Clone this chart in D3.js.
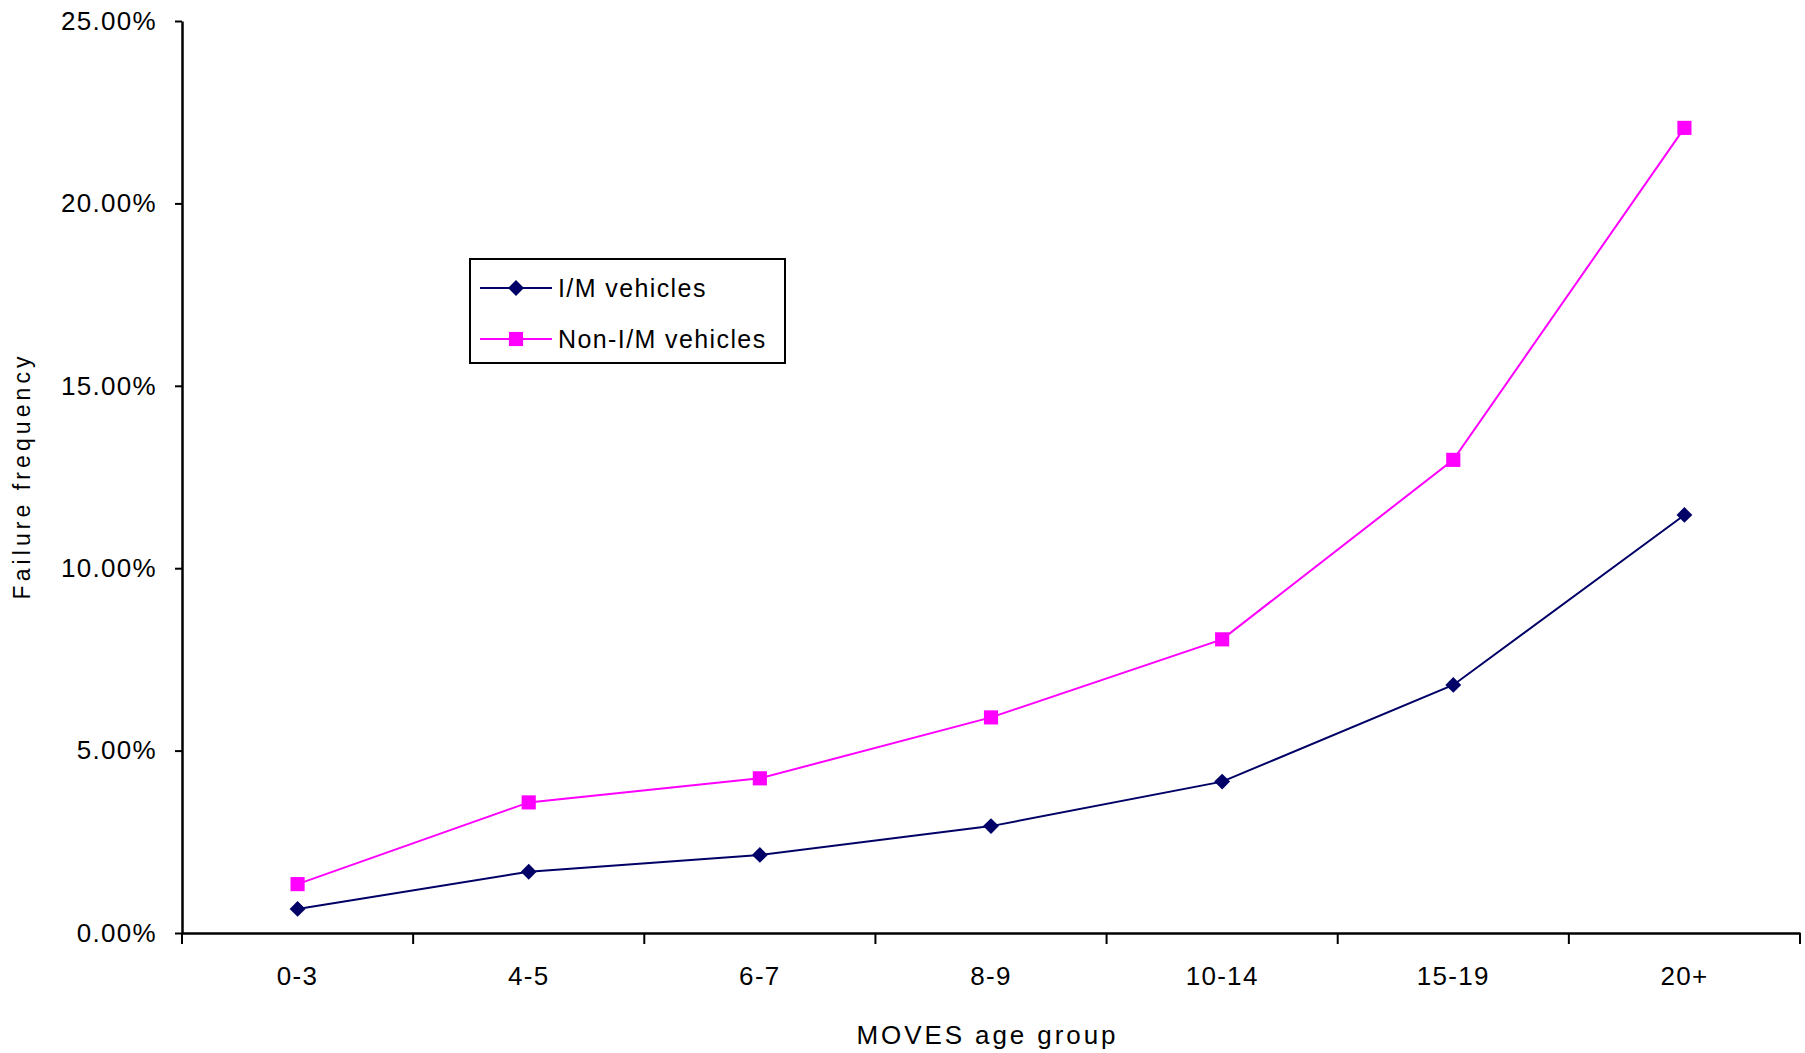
<!DOCTYPE html>
<html>
<head>
<meta charset="utf-8">
<script src="https://cdn.jsdelivr.net/npm/d3@7"></script>
<style>
  html, body { margin: 0; padding: 0; background: #ffffff; }
  svg { display: block; }
  text { font-family: "Liberation Sans", Arial, sans-serif; fill: #000; }
</style>
</head>
<body>
<svg id="chart" width="1805" height="1053"></svg>
<script>
// Age groups and failure frequencies (fractions) for the two vehicle populations
const ageGroups = ["0-3", "4-5", "6-7", "8-9", "10-14", "15-19", "20+"];
const imValues    = [0.0066, 0.0168, 0.0214, 0.0293, 0.0415, 0.0680, 0.1146];
const nonImValues = [0.0134, 0.0358, 0.0424, 0.0591, 0.0805, 0.1297, 0.2207];
const yTickValues = [0, 0.05, 0.10, 0.15, 0.20, 0.25];
const seriesNames = ["I/M vehicles", "Non-I/M vehicles"];

const series = [
  { name: seriesNames[0], values: imValues,    color: "#000066", marker: "diamond" },
  { name: seriesNames[1], values: nonImValues, color: "#ff00ff", marker: "square" }
];

const svg = d3.select("#chart");
const plot = { left: 182, right: 1800, top: 21, bottom: 933 };

const x = d3.scaleBand().domain(ageGroups).range([plot.left, plot.right]).padding(0);
const y = d3.scaleLinear().domain([0, 0.25]).range([plot.bottom, plot.top]);
const cx = c => x(c) + x.bandwidth() / 2;

// Y axis
const yAxis = svg.append("g")
  .attr("transform", `translate(${plot.left},0)`)
  .call(d3.axisLeft(y).tickValues(yTickValues).tickFormat(d3.format(".2%"))
    .tickSizeInner(7).tickSizeOuter(0).tickPadding(18));
yAxis.select(".domain").attr("stroke", "#000").attr("stroke-width", 2.5);
yAxis.selectAll(".tick line").attr("stroke", "#000").attr("stroke-width", 2);
yAxis.selectAll(".tick text")
  .attr("font-size", 26).attr("letter-spacing", 1.3)
  .style("font-family", "'Liberation Sans', Arial, sans-serif");

// X axis: labels centred in each band, tick marks on the band boundaries
const xAxis = svg.append("g")
  .attr("transform", `translate(0,${plot.bottom})`)
  .call(d3.axisBottom(x).tickSize(0).tickPadding(34).tickSizeOuter(0));
xAxis.select(".domain").attr("stroke", "#000").attr("stroke-width", 2.5);
xAxis.selectAll(".tick text")
  .attr("font-size", 26).attr("letter-spacing", 1.3)
  .style("font-family", "'Liberation Sans', Arial, sans-serif");

const boundaries = ageGroups.map(c => x(c)).concat([x(ageGroups[ageGroups.length - 1]) + x.bandwidth()]);
xAxis.selectAll("line.boundary")
  .data(boundaries)
  .enter().append("line")
  .attr("class", "boundary")
  .attr("x1", d => d).attr("x2", d => d)
  .attr("y1", 0).attr("y2", 11)
  .attr("stroke", "#000").attr("stroke-width", 2);

// Axis titles
svg.append("text")
  .attr("x", 986).attr("y", 1044)
  .attr("text-anchor", "middle")
  .attr("font-size", 26)
  .attr("textLength", 259).attr("lengthAdjust", "spacing")
  .text("MOVES age group");

svg.append("text")
  .attr("transform", "translate(30,478) rotate(-90)")
  .attr("text-anchor", "middle")
  .attr("font-size", 23)
  .attr("textLength", 243).attr("lengthAdjust", "spacing")
  .text("Failure frequency");

// Marker shapes
const diamond = d3.symbol().type(d3.symbolDiamond2).size(160);
const square = d3.symbol().type(d3.symbolSquare).size(200);
const markerPath = s => (s.marker === "diamond" ? diamond() : square());

// Series lines and markers
const line = d3.line().x((d, i) => cx(ageGroups[i])).y(d => y(d));

series.forEach(s => {
  svg.append("path")
    .datum(s.values)
    .attr("d", line)
    .attr("fill", "none")
    .attr("stroke", s.color)
    .attr("stroke-width", 2);

  svg.selectAll(null)
    .data(s.values)
    .enter().append("path")
    .attr("d", markerPath(s))
    .attr("transform", (d, i) => `translate(${cx(ageGroups[i])},${y(d)})`)
    .attr("fill", s.color);
});

// Legend
const legend = svg.append("g");
legend.append("rect")
  .attr("x", 470).attr("y", 259).attr("width", 315).attr("height", 104)
  .attr("fill", "#fff").attr("stroke", "#000").attr("stroke-width", 2);

const rowY = [288, 339];
series.forEach((s, i) => {
  legend.append("line")
    .attr("x1", 480).attr("x2", 552).attr("y1", rowY[i]).attr("y2", rowY[i])
    .attr("stroke", s.color).attr("stroke-width", 2);
  legend.append("path")
    .attr("d", markerPath(s))
    .attr("transform", `translate(516,${rowY[i]})`)
    .attr("fill", s.color);
  legend.append("text")
    .attr("x", 558).attr("y", rowY[i])
    .attr("dy", "0.35em")
    .attr("font-size", 25)
    .attr("letter-spacing", 1.4)
    .text(s.name);
});
</script>
</body>
</html>
